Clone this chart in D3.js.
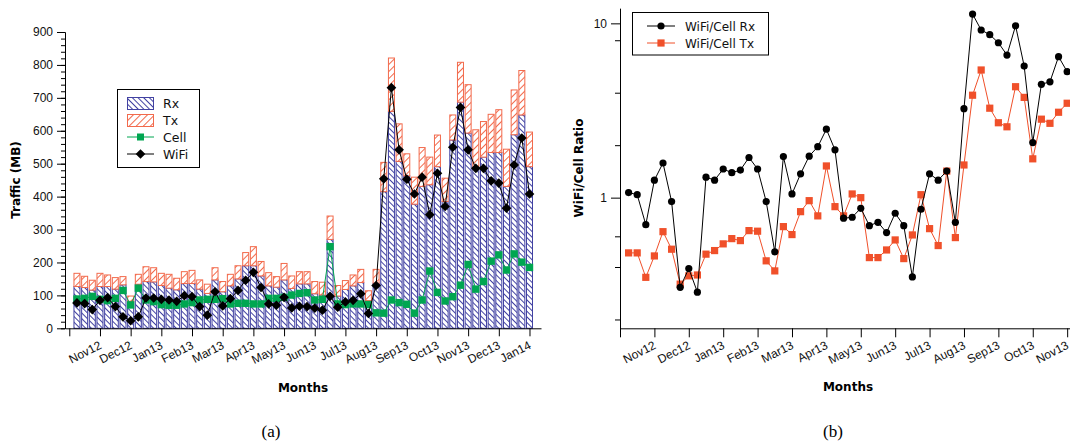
<!DOCTYPE html>
<html>
<head>
<meta charset="utf-8">
<script src="https://cdn.jsdelivr.net/npm/d3@7"></script>
<style>
  body { margin: 0; background: #fff; }
  svg { display: block; font-family: 'DejaVu Sans', sans-serif; }
  .axis path, .axis line { stroke: #000; }
  .axis text { font-size: 12px; fill: #111; }
</style>
</head>
<body>
<div id="chart"></div>
<script>
// weekly samples, one tick every 4 weeks
const monthLabels = ['Nov12', 'Dec12', 'Jan13', 'Feb13', 'Mar13', 'Apr13', 'May13', 'Jun13',
  'Jul13', 'Aug13', 'Sep13', 'Oct13', 'Nov13', 'Dec13', 'Jan14'];

// (a) traffic in MB
const rxMB = [127, 124, 116, 127, 127, 119, 132, 82, 134, 142, 141, 130, 122, 117, 136, 136, 119, 106, 147, 111,
  129, 150, 190, 190, 159, 129, 125, 147, 121, 135, 135, 105, 101, 270, 98, 118, 129, 139, 84, 137,
  415, 659, 507, 463, 377, 431, 436, 491, 385, 572, 687, 593, 489, 520, 534, 534, 431, 588, 648, 491];
const txMB = [40, 34, 30, 40, 35, 35, 25, 16, 30, 45, 43, 37, 42, 35, 36, 40, 28, 28, 37, 31,
  35, 40, 40, 58, 44, 40, 32, 50, 38, 37, 37, 37, 39, 71, 32, 27, 33, 40, 30, 42,
  89, 162, 114, 67, 82, 118, 84, 96, 71, 76, 121, 147, 114, 108, 116, 130, 113, 136, 135, 105];
const cellMB = [89, 91, 97, 88, 84, 91, 115, 71, 122, 86, 81, 72, 70, 70, 74, 78, 86, 88, 88, 90,
  74, 76, 76, 74, 74, 91, 91, 94, 101, 106, 108, 86, 88, 248, 74, 72, 74, 74, 72, 47,
  46, 86, 78, 73, 46, 86, 174, 109, 83, 96, 131, 194, 119, 142, 204, 223, 177, 226, 201, 185];
const wifiMB = [77, 75, 57, 85, 93, 66, 35, 23, 35, 92, 92, 88, 86, 82, 99, 96, 66, 40, 111, 68,
  90, 115, 146, 170, 124, 74, 70, 94, 62, 67, 66, 61, 55, 97, 64, 80, 85, 105, 45, 130,
  454, 731, 542, 453, 408, 459, 345, 471, 370, 550, 671, 542, 486, 486, 448, 441, 365, 496, 578, 408];

// (b) WiFi/Cell ratios (visible part of the panel)
const ratioRx = [1.07, 1.04, 0.70, 1.26, 1.58, 0.95, 0.306, 0.392, 0.287, 1.31, 1.26, 1.46, 1.39, 1.44, 1.70, 1.46,
  0.95, 0.489, 1.72, 1.05, 1.37, 1.73, 1.96, 2.47, 1.88, 0.762, 0.772, 0.869, 0.691, 0.722, 0.630, 0.814,
  0.691, 0.351, 0.858, 1.37, 1.26, 1.42, 0.722, 3.24, 11.3, 9.16, 8.61, 7.74, 6.58, 9.69, 5.69, 2.07,
  4.47, 4.62, 6.44, 5.28];
const ratioTx = [0.482, 0.482, 0.349, 0.463, 0.638, 0.506, 0.319, 0.356, 0.360, 0.474, 0.497, 0.543, 0.582, 0.567, 0.647, 0.642,
  0.434, 0.380, 0.682, 0.614, 0.831, 0.961, 0.786, 1.52, 0.888, 0.786, 1.05, 1.00, 0.453, 0.453, 0.501, 0.572,
  0.447, 0.611, 1.04, 0.664, 0.531, 1.42, 0.590, 1.54, 3.87, 5.40, 3.26, 2.69, 2.55, 4.33, 3.76, 1.67,
  2.82, 2.67, 3.09, 3.48];

const yMajorA = d3.range(0, 901, 100);
const yMinorA = d3.range(0, 901, 20);
const yMajorB = [1, 10];
const yMinorB = [0.2, 0.4, 0.6, 2, 4, 8];

const navy = '#4242a2';
const orange = '#f26a4c';
const green = '#00a651';
const red = '#f0502a';

const svg = d3.select('#chart').append('svg')
  .attr('width', 1070)
  .attr('height', 443);

const defs = svg.append('defs');
function hatch(id, angle, gap, color) {
  const p = defs.append('pattern')
    .attr('id', id)
    .attr('patternUnits', 'userSpaceOnUse')
    .attr('width', gap)
    .attr('height', gap)
    .attr('patternTransform', `rotate(${angle})`);
  p.append('rect').attr('width', gap).attr('height', gap).attr('fill', '#fff');
  p.append('line').attr('x1', 0.5).attr('y1', 0).attr('x2', 0.5).attr('y2', gap)
    .attr('stroke', color).attr('stroke-width', 1);
}
hatch('hRx', -45, 4, navy);
hatch('hTx', 45, 5, orange);

const diamond = d3.symbol().type(d3.symbolDiamond2 || d3.symbolDiamond).size(60);

// ---------- panel (a) ----------
const xA = d3.scaleLinear().domain([-1.56, 60.5]).range([65, 541]);
const yA = d3.scaleLinear().domain([0, 900]).range([328.3, 32]);
const idx = d3.range(rxMB.length);
const tickIdx = d3.range(0, 16).map(k => 4 * k - 1);
const barW = 7;

const gA = svg.append('g');

const bars = gA.append('g').selectAll('g').data(idx).enter().append('g');
bars.append('rect')
  .attr('x', i => xA(i) - barW / 2 + 0.5)
  .attr('y', i => yA(rxMB[i]))
  .attr('width', barW - 1)
  .attr('height', i => yA(0) - yA(rxMB[i]))
  .attr('fill', 'url(#hRx)')
  .attr('stroke', navy);
bars.append('rect')
  .attr('x', i => xA(i) - barW / 2 + 0.5)
  .attr('y', i => yA(rxMB[i] + txMB[i]))
  .attr('width', barW - 1)
  .attr('height', i => yA(rxMB[i]) - yA(rxMB[i] + txMB[i]))
  .attr('fill', 'url(#hTx)')
  .attr('stroke', orange);

const lineA = vals => d3.line().x(i => xA(i)).y(i => yA(vals[i]))(idx);

gA.append('path').attr('d', lineA(cellMB)).attr('fill', 'none').attr('stroke', green).attr('stroke-width', 1);
gA.append('g').selectAll('rect').data(idx).enter().append('rect')
  .attr('x', i => xA(i) - 3.7)
  .attr('y', i => yA(cellMB[i]) - 3.7)
  .attr('width', 7.4)
  .attr('height', 7.4)
  .attr('fill', green);

gA.append('path').attr('d', lineA(wifiMB)).attr('fill', 'none').attr('stroke', '#000').attr('stroke-width', 1);
gA.append('g').selectAll('path').data(idx).enter().append('path')
  .attr('d', diamond)
  .attr('transform', i => `translate(${xA(i)},${yA(wifiMB[i])})`)
  .attr('fill', '#000');

// axes (a)
gA.append('g').attr('class', 'axis')
  .attr('transform', 'translate(65,0)')
  .call(d3.axisLeft(yA).tickValues(yMinorA).tickSize(4).tickFormat('').tickSizeOuter(0));
gA.append('g').attr('class', 'axis')
  .attr('transform', 'translate(65,0)')
  .call(d3.axisLeft(yA).tickValues(yMajorA).tickSize(8).tickPadding(4).tickSizeOuter(0));

const xAxisA = gA.append('g').attr('class', 'axis')
  .attr('transform', `translate(0,${yA(0)})`)
  .call(d3.axisBottom(xA).tickValues(tickIdx).tickSize(8).tickSizeOuter(0)
    .tickFormat((d, k) => k === 0 ? '' : monthLabels[k - 1]));
xAxisA.selectAll('.tick text')
  .attr('x', 0).attr('y', 0).attr('dy', '0.71em')
  .attr('text-anchor', 'end')
  .attr('transform', 'translate(-2,12) rotate(-27)');

gA.append('text')
  .attr('transform', 'translate(20,180) rotate(-90)')
  .attr('text-anchor', 'middle')
  .attr('font-size', 12).attr('font-weight', 'bold')
  .text('Traffic (MB)');
gA.append('text')
  .attr('x', 303).attr('y', 392)
  .attr('text-anchor', 'middle')
  .attr('font-size', 12).attr('font-weight', 'bold')
  .text('Months');
gA.append('text')
  .attr('x', 271).attr('y', 437)
  .attr('text-anchor', 'middle')
  .attr('font-family', 'Liberation Serif, serif')
  .attr('font-size', 17)
  .text('(a)');

// legend (a)
const legA = gA.append('g');
legA.append('rect').attr('x', 117.5).attr('y', 89.5).attr('width', 82).attr('height', 78)
  .attr('fill', '#fff').attr('stroke', '#000');
legA.append('rect').attr('x', 127.5).attr('y', 97.5).attr('width', 26).attr('height', 12)
  .attr('fill', 'url(#hRx)').attr('stroke', navy);
legA.append('rect').attr('x', 127.5).attr('y', 114.5).attr('width', 26).attr('height', 12)
  .attr('fill', 'url(#hTx)').attr('stroke', orange);
legA.append('line').attr('x1', 127).attr('x2', 154).attr('y1', 137).attr('y2', 137).attr('stroke', green);
legA.append('rect').attr('x', 137).attr('y', 133.5).attr('width', 7).attr('height', 7).attr('fill', green);
legA.append('line').attr('x1', 127).attr('x2', 154).attr('y1', 154).attr('y2', 154).attr('stroke', '#000');
legA.append('path').attr('d', diamond).attr('transform', 'translate(140.5,154)').attr('fill', '#000');
[['Rx', 108], ['Tx', 125], ['Cell', 141.5], ['WiFi', 158.5]].forEach(([t, y]) => {
  legA.append('text').attr('x', 163).attr('y', y).attr('font-size', 12.5).attr('fill', '#111').text(t);
});

// ---------- panel (b) ----------
const xB = d3.scaleLinear().domain([-1, 51.4]).range([620, 1070.6]);
const yB = d3.scaleLog().domain([0.178, 12.2]).range([328.3, 8.3]);
const idxB = d3.range(ratioRx.length);
const tickIdxB = d3.range(0, 14).map(k => 4 * k - 1);

const gB = svg.append('g');

gB.append('g').attr('class', 'axis')
  .attr('transform', 'translate(620,0)')
  .call(d3.axisLeft(yB).tickValues(yMinorB).tickSize(5).tickFormat('').tickSizeOuter(0));
gB.append('g').attr('class', 'axis')
  .attr('transform', 'translate(620,0)')
  .call(d3.axisLeft(yB).tickValues(yMajorB).tickSize(9).tickPadding(4).tickSizeOuter(0)
    .tickFormat(d3.format('d')));

const xAxisB = gB.append('g').attr('class', 'axis')
  .attr('transform', `translate(0,${yB.range()[0]})`)
  .call(d3.axisBottom(xB).tickValues(tickIdxB).tickSize(9).tickSizeOuter(0)
    .tickFormat((d, k) => k === 0 ? '' : monthLabels[k - 1]));
xAxisB.selectAll('.tick text')
  .attr('x', 0).attr('y', 0).attr('dy', '0.71em')
  .attr('text-anchor', 'end')
  .attr('transform', 'translate(-2,12) rotate(-27)');

const lineB = vals => d3.line().x(i => xB(i)).y(i => yB(vals[i]))(idxB);

gB.append('path').attr('d', lineB(ratioTx)).attr('fill', 'none').attr('stroke', red).attr('stroke-width', 1);
gB.append('g').selectAll('rect').data(idxB).enter().append('rect')
  .attr('x', i => xB(i) - 3.6)
  .attr('y', i => yB(ratioTx[i]) - 3.6)
  .attr('width', 7.2)
  .attr('height', 7.2)
  .attr('fill', red);

gB.append('path').attr('d', lineB(ratioRx)).attr('fill', 'none').attr('stroke', '#000').attr('stroke-width', 1);
gB.append('g').selectAll('circle').data(idxB).enter().append('circle')
  .attr('cx', i => xB(i))
  .attr('cy', i => yB(ratioRx[i]))
  .attr('r', 3.6)
  .attr('fill', '#000');

gB.append('text')
  .attr('transform', 'translate(583,168) rotate(-90)')
  .attr('text-anchor', 'middle')
  .attr('font-size', 12).attr('font-weight', 'bold')
  .text('WiFi/Cell Ratio');
gB.append('text')
  .attr('x', 848).attr('y', 391)
  .attr('text-anchor', 'middle')
  .attr('font-size', 12).attr('font-weight', 'bold')
  .text('Months');
gB.append('text')
  .attr('x', 833).attr('y', 437)
  .attr('text-anchor', 'middle')
  .attr('font-family', 'Liberation Serif, serif')
  .attr('font-size', 17)
  .text('(b)');

// legend (b)
const legB = gB.append('g');
legB.append('rect').attr('x', 632.5).attr('y', 12.5).attr('width', 136).attr('height', 42.5)
  .attr('fill', '#fff').attr('stroke', '#000');
legB.append('line').attr('x1', 647).attr('x2', 675).attr('y1', 26).attr('y2', 26).attr('stroke', '#000');
legB.append('circle').attr('cx', 661).attr('cy', 26).attr('r', 3.6).attr('fill', '#000');
legB.append('line').attr('x1', 647).attr('x2', 675).attr('y1', 43).attr('y2', 43).attr('stroke', red);
legB.append('rect').attr('x', 657.4).attr('y', 39.4).attr('width', 7.2).attr('height', 7.2).attr('fill', red);
legB.append('text').attr('x', 685).attr('y', 30.5).attr('font-size', 12).attr('fill', '#111').text('WiFi/Cell Rx');
legB.append('text').attr('x', 685).attr('y', 47.5).attr('font-size', 12).attr('fill', '#111').text('WiFi/Cell Tx');
</script>
</body>
</html>
